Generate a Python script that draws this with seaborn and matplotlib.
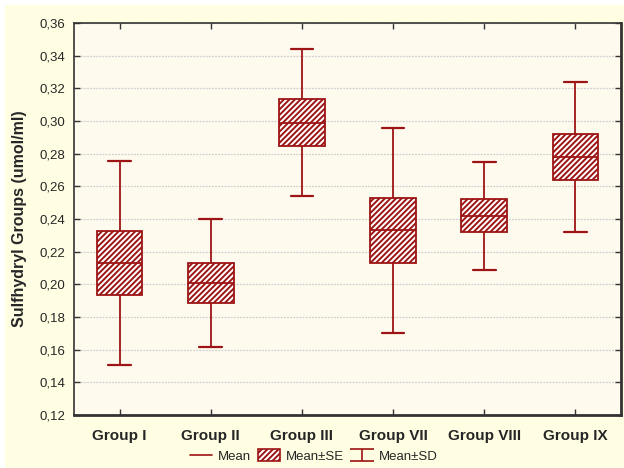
import numpy as np
import pandas as pd
import seaborn as sns
import matplotlib.pyplot as plt
from matplotlib.lines import Line2D
from matplotlib.patches import Patch, Rectangle
from matplotlib.path import Path
from matplotlib.ticker import FuncFormatter, MultipleLocator

# values
groups = ["Group I", "Group II", "Group III", "Group VII", "Group VIII", "Group IX"]
means = [0.213, 0.201, 0.299, 0.233, 0.242, 0.278]
se = [0.0195, 0.0122, 0.0143, 0.0198, 0.0102, 0.0142]
sd = [0.0625, 0.0392, 0.0450, 0.0630, 0.0330, 0.0460]

# 5 points per group so that quartiles = mean±SE and min/max = mean±SD
rows = []
for g, m, e, d in zip(groups, means, se, sd):
    for v in [m - d, m - e, m, m + e, m + d]:
        rows.append({"group": g, "value": v})
df = pd.DataFrame(rows)

red = "#9C1414"
fig_bg = "#FFFEE3"
ax_bg = "#FFFAEE"
hatch = "//////"

sns.set_style("ticks")
plt.rcParams["font.family"] = ["Liberation Sans", "DejaVu Sans"]
plt.rcParams["hatch.linewidth"] = 1.4

fig = plt.figure(figsize=(6.24, 4.68), dpi=100, facecolor="white")
fig.patches.append(Rectangle((5 / 624, 0), 1, 1 - 5 / 468, transform=fig.transFigure,
                             facecolor=fig_bg, edgecolor="none", zorder=-10))
ax = fig.add_axes([74 / 624, 1 - 415 / 468, (621 - 74) / 624, (415 - 23) / 468])
ax.set_facecolor(ax_bg)

sns.boxplot(data=df, x="group", y="value", order=groups, whis=(0, 100), width=0.5,
            color=red, linecolor=red, linewidth=1.3, showfliers=False,
            medianprops=dict(color=red, linewidth=1.3),
            whiskerprops=dict(color=red, linewidth=1.3),
            capprops=dict(color=red, linewidth=1.6),
            ax=ax)

for p in ax.patches:
    p.set_facecolor("white")
    p.set_edgecolor(red)
    p.set_hatch(hatch)
    p.set_linewidth(1.3)

ax.set_ylim(0.12, 0.36)
ax.set_xlim(-0.5, len(groups) - 0.5)
ax.yaxis.set_major_locator(MultipleLocator(0.02))
ax.yaxis.set_major_formatter(FuncFormatter(lambda v, p: f"{v:.2f}".replace(".", ",")))
ax.grid(axis="y", color="#CFCFCF", linestyle=(0, (1.5, 1.0)), linewidth=0.9)
ax.set_axisbelow(True)

ax.tick_params(direction="in", length=4, width=1, color="#333333",
               top=True, right=True, labelsize=9.5)
for lab in ax.get_xticklabels():
    lab.set_fontweight("bold")
    lab.set_fontsize(11)
ax.tick_params(axis="x", pad=10)
ax.tick_params(axis="y", pad=6)

ax.set_xlabel("")
ax.set_ylabel("Sulfhydryl Groups (umol/ml)", fontsize=11.5, fontweight="bold", labelpad=9)

for side in ["left", "top"]:
    ax.spines[side].set_linewidth(1.2)
    ax.spines[side].set_color("#333333")
for side in ["right", "bottom"]:
    ax.spines[side].set_linewidth(2.0)
    ax.spines[side].set_color("#333333")

# I-beam marker for the SD legend entry
ibeam = Path([(-1, 0.55), (1, 0.55), (0, 0.55), (0, -0.55), (-1, -0.55), (1, -0.55)],
             [Path.MOVETO, Path.LINETO, Path.MOVETO, Path.LINETO, Path.MOVETO, Path.LINETO])
handles = [
    Line2D([], [], color=red, linewidth=1.2),
    Patch(facecolor="white", edgecolor=red, hatch=hatch, linewidth=1.2),
    Line2D([], [], linestyle="none", marker=ibeam, markersize=17,
           markeredgecolor=red, markerfacecolor="none", markeredgewidth=1.2),
]
fig.legend(handles, ["Mean", "Mean±SE", "Mean±SD"], loc="center",
           bbox_to_anchor=(0.503, 1 - 456 / 468), ncol=3, frameon=False,
           fontsize=9.5, handlelength=1.7, handleheight=1.0,
           handletextpad=0.45, columnspacing=0.5)

fig.savefig("out.png", dpi=100, facecolor=fig.get_facecolor())
